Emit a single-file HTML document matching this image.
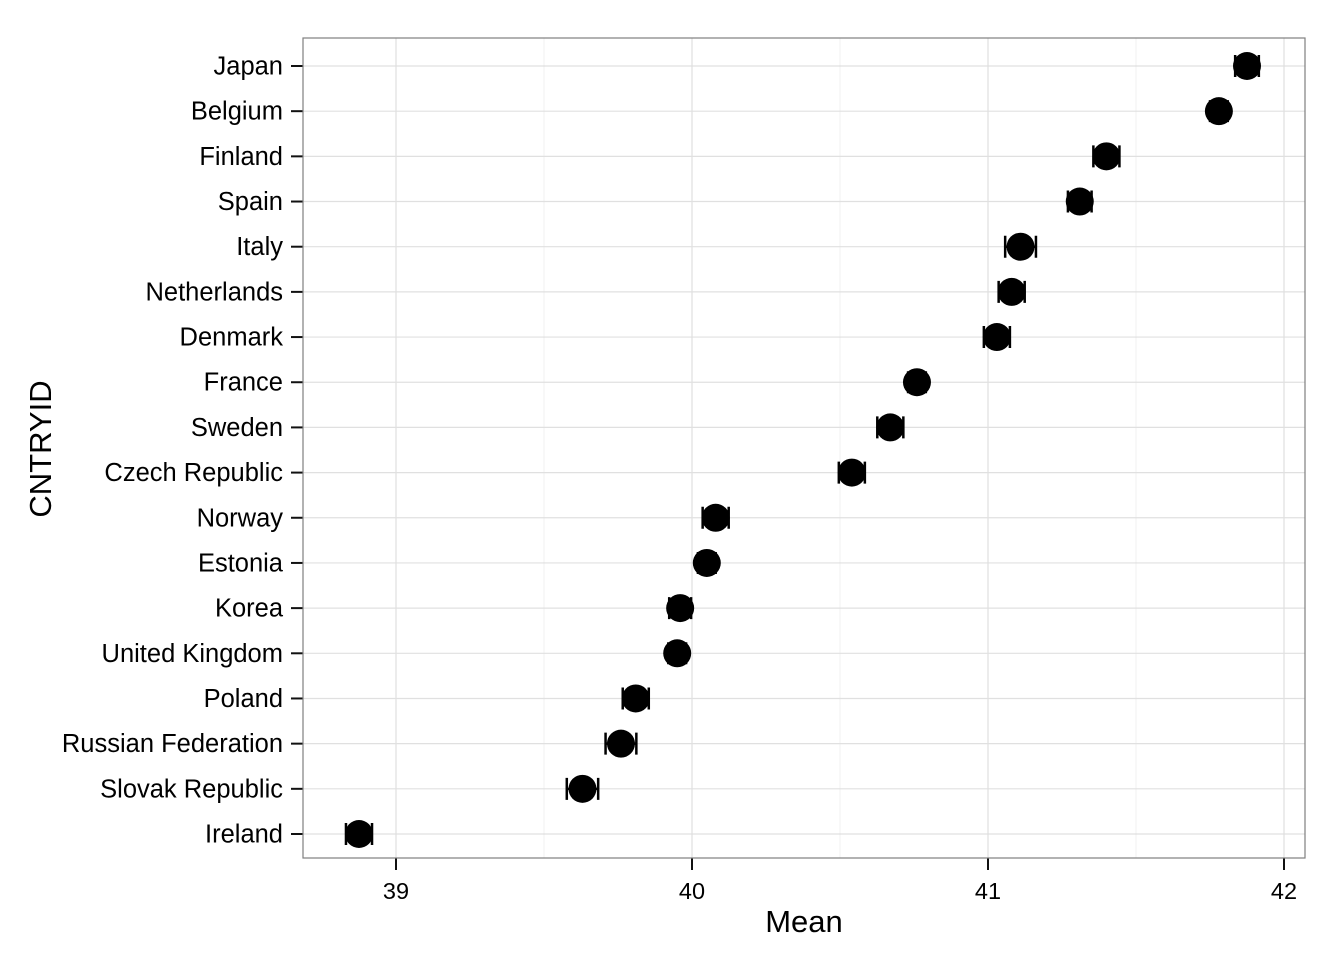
<!DOCTYPE html>
<html><head><meta charset="utf-8"><style>
body{margin:0;background:#fff;}
svg text{font-family:"Liberation Sans",sans-serif;}
</style></head><body>
<svg id="chart" width="1344" height="960" xmlns="http://www.w3.org/2000/svg">
<rect width="1344" height="960" fill="#fff"/>
<g id="grid"></g><g id="marks"></g><g id="axes"></g>
<rect x="303" y="38" width="1002" height="820" fill="none" stroke="#7f7f7f" stroke-width="1.2"/>
<text x="804" y="932" font-size="31" text-anchor="middle">Mean</text>
<text transform="translate(51,449) rotate(-90)" font-size="31" text-anchor="middle">CNTRYID</text>
</svg>
<script>
const countries=["Japan","Belgium","Finland","Spain","Italy","Netherlands","Denmark","France","Sweden","Czech Republic","Norway","Estonia","Korea","United Kingdom","Poland","Russian Federation","Slovak Republic","Ireland"];
const means=[41.875,41.78,41.40,41.31,41.11,41.08,41.03,40.76,40.67,40.54,40.08,40.05,39.96,39.95,39.81,39.76,39.63,38.875];
const errs=[0.04,0.03,0.044,0.04,0.052,0.044,0.044,0.03,0.044,0.044,0.044,0.03,0.037,0.03,0.044,0.052,0.053,0.044];
const xTicks=[39,40,41,42];
const xMinor=[39.5,40.5,41.5];
const NS="http://www.w3.org/2000/svg";
const x=v=>396+(v-39)*296;
const y=i=>66+i*(768/17);
function mk(t,a,p){const e=document.createElementNS(NS,t);for(const k in a)e.setAttribute(k,a[k]);p.appendChild(e);return e;}
const g=document.getElementById('grid'),m=document.getElementById('marks'),ax=document.getElementById('axes');
xMinor.forEach(v=>{const l=mk('line',{x1:x(v),x2:x(v),y1:38,y2:858,stroke:'#f2f2f2','stroke-width':1.2},g);

});
xTicks.forEach(v=>{const l=mk('line',{x1:x(v),x2:x(v),y1:38,y2:858,stroke:'#e0e0e0','stroke-width':1.2},g);


const t=mk('line',{x1:x(v),x2:x(v),y1:858,y2:870,stroke:'#111','stroke-width':2},ax);


const tx=mk('text',{x:x(v),y:899,'font-size':23.5,'text-anchor':'middle',fill:'#000'},ax);tx.textContent=v;

});
countries.forEach((c,i)=>{const yy=y(i);
const l=mk('line',{x1:303,x2:1305,y1:yy,y2:yy,stroke:'#e0e0e0','stroke-width':1.2},g);


const t=mk('line',{x1:291,x2:303,y1:yy,y2:yy,stroke:'#111','stroke-width':2},ax);


const tx=mk('text',{x:283,y:yy+8.5,'font-size':25.5,'text-anchor':'end',fill:'#000'},ax);tx.textContent=c;


const lo=x(means[i]-errs[i]),hi=x(means[i]+errs[i]);
const eb=mk('path',{d:`M${lo},${yy-11}V${yy+11}M${hi},${yy-11}V${yy+11}M${lo},${yy}H${hi}`,stroke:'#000','stroke-width':2.5,fill:'none'},m);


const p=mk('circle',{cx:x(means[i]),cy:yy,r:14,fill:'#000'},m);


});
</script>
</body></html>
